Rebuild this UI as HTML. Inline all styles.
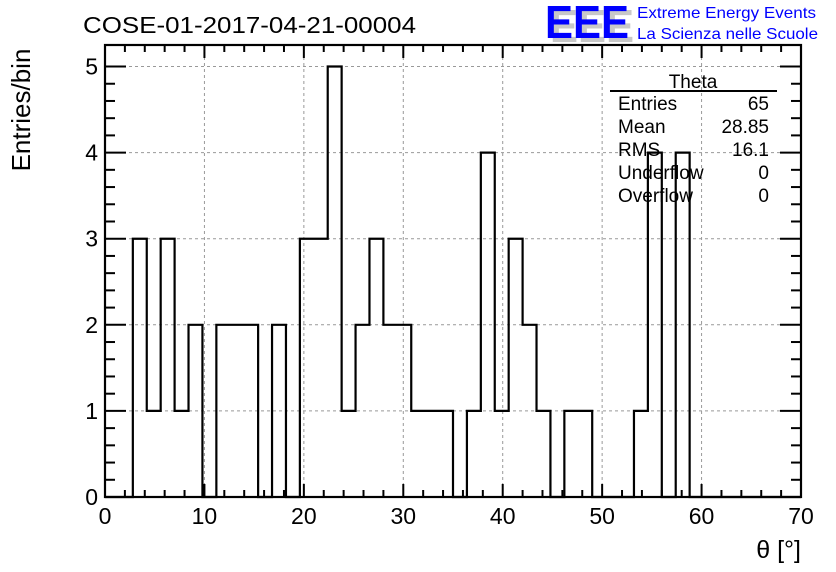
<!DOCTYPE html>
<html><head><meta charset="utf-8"><style>
html,body{margin:0;padding:0;background:#fff;}
svg{display:block;font-family:"Liberation Sans",sans-serif;}
</style></head><body>
<svg id="chart" width="836" height="572" viewBox="0 0 836 572">
<rect width="836" height="572" fill="#fff"/>
<g id="grid"></g>
<g id="hist"></g>
<g id="axes"></g>
<text x="83" y="33" font-size="23" fill="#000" textLength="333" lengthAdjust="spacingAndGlyphs">COSE-01-2017-04-21-00004</text>
<text transform="translate(30,110) rotate(-90)" text-anchor="middle" font-size="26">Entries/bin</text>
<text x="801" y="558" text-anchor="end" font-size="25">θ [°]</text>
<g>
<text x="550" y="42" font-size="46" font-weight="bold" fill="#c8c8c8" textLength="84" lengthAdjust="spacingAndGlyphs">EEE</text>
<text x="545" y="38" font-size="46" font-weight="bold" fill="#0000ff" textLength="84" lengthAdjust="spacingAndGlyphs">EEE</text>
<text x="637" y="18" font-size="16" fill="#0000ff" textLength="179" lengthAdjust="spacingAndGlyphs">Extreme Energy Events</text>
<text x="637" y="39" font-size="16" fill="#0000ff" textLength="181" lengthAdjust="spacingAndGlyphs">La Scienza nelle Scuole</text>
</g>
<g font-size="19">
<text x="693" y="88" text-anchor="middle">Theta</text>
<line x1="610" y1="91" x2="777" y2="91" stroke="#000" stroke-width="2"/>
<text x="618" y="110">Entries</text><text x="769" y="110" text-anchor="end">65</text>
<text x="618" y="133">Mean</text><text x="769" y="133" text-anchor="end">28.85</text>
<text x="618" y="156">RMS</text><text x="769" y="156" text-anchor="end">16.1</text>
<text x="618" y="179">Underflow</text><text x="769" y="179" text-anchor="end">0</text>
<text x="618" y="202">Overflow</text><text x="769" y="202" text-anchor="end">0</text>
</g>
</svg>
<script>
const binWidth = 1.4;
const counts = [0,0,3,1,3,1,2,0,2,2,2,0,2,0,3,3,5,1,2,3,2,2,1,1,1,0,1,4,1,3,2,1,0,1,1,0,0,0,1,4,0,4,0,0,0,0,0,0,0,0];
const xTicks = [0,10,20,30,40,50,60,70];
const yTicks = [0,1,2,3,4,5];
const NS = "http://www.w3.org/2000/svg";
const L=105,R=801,T=45,B=497;
const xMin=0,xMax=70,yMax=5.25;
function sx(v){return L+(v-xMin)/(xMax-xMin)*(R-L);}
function sy(v){return B-v/yMax*(B-T);}
function mk(tag,attrs,parent){const e=document.createElementNS(NS,tag);for(const k in attrs)e.setAttribute(k,attrs[k]);parent.appendChild(e);return e;}
const grid=document.getElementById('grid'),hist=document.getElementById('hist'),axes=document.getElementById('axes');
xTicks.forEach(v=>{if(v>xMin&&v<xMax){const g=mk('line',{x1:sx(v),x2:sx(v),y1:T,y2:B,stroke:'#999','stroke-dasharray':'3,3','stroke-width':1},grid);

}});
yTicks.forEach(v=>{if(v>0){const g=mk('line',{x1:L,x2:R,y1:sy(v),y2:sy(v),stroke:'#999','stroke-dasharray':'3,3','stroke-width':1},grid);

}});
let d='M'+sx(0)+','+sy(0);
counts.forEach((c,i)=>{d+=' L'+sx(i*binWidth)+','+sy(c)+' L'+sx((i+1)*binWidth)+','+sy(c);});
d+=' L'+sx(counts.length*binWidth)+','+sy(0);
const p=mk('path',{d:d,fill:'none',stroke:'#000','stroke-width':2.2},hist);


const fr=mk('rect',{x:L,y:T,width:R-L,height:B-T,fill:'none',stroke:'#000','stroke-width':2.2},axes);


for(let v=xMin;v<=xMax+0.001;v+=2){const major=(v%10===0);const len=major?13:7;
mk('line',{x1:sx(v),x2:sx(v),y1:B,y2:B-len,stroke:'#000','stroke-width':2},axes);
mk('line',{x1:sx(v),x2:sx(v),y1:T,y2:T+len,stroke:'#000','stroke-width':2},axes);}
for(let v=0;v<=5.2;v+=0.2){const vv=Math.round(v*10)/10;const major=Math.abs(vv-Math.round(vv))<0.01;const len=major?21:10;
mk('line',{x1:L,x2:L+len,y1:sy(vv),y2:sy(vv),stroke:'#000','stroke-width':2},axes);
mk('line',{x1:R,x2:R-len,y1:sy(vv),y2:sy(vv),stroke:'#000','stroke-width':2},axes);}
xTicks.forEach(v=>{const t=mk('text',{x:sx(v),y:524,'text-anchor':'middle','font-size':23},axes);t.textContent=v;

});
yTicks.forEach(v=>{const t=mk('text',{x:98,y:sy(v)+8,'text-anchor':'end','font-size':23},axes);t.textContent=v;

});
</script>
</body></html>
